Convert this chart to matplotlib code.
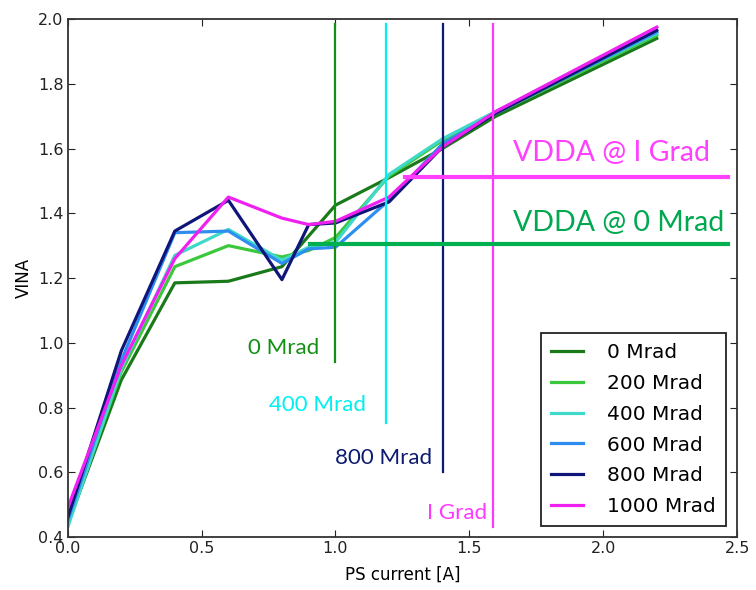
import matplotlib
matplotlib.use("Agg")
import matplotlib.pyplot as plt

# PS current sweep points [A]
current = [0, 0.2, 0.4, 0.6, 0.8, 0.9, 1.0, 1.2, 1.4, 1.6, 2.2]

# VINA for each dose
vina_0 = [0.44, 0.885, 1.185, 1.19, 1.235, 1.33, 1.425, 1.51, 1.60, 1.70, 1.94]
vina_200 = [0.44, 0.91, 1.235, 1.30, 1.265, 1.285, 1.325, 1.515, 1.625, 1.71, 1.95]
vina_400 = [0.43, 0.92, 1.27, 1.35, 1.255, 1.295, 1.31, 1.52, 1.63, 1.715, 1.955]
vina_600 = [0.45, 0.945, 1.34, 1.345, 1.245, 1.29, 1.295, 1.44, 1.615, 1.71, 1.96]
vina_800 = [0.46, 0.975, 1.345, 1.44, 1.195, 1.365, 1.37, 1.435, 1.605, 1.71, 1.965]
vina_1000 = [0.49, 0.93, 1.26, 1.45, 1.385, 1.365, 1.375, 1.45, 1.605, 1.715, 1.975]

labels = ["0 Mrad", "200 Mrad", "400 Mrad", "600 Mrad", "800 Mrad", "1000 Mrad"]
colors = ["#1a7a1a", "#3cc83c", "#40d8c8", "#2e8ef0", "#10157a", "#f020f0"]

# current where VINA crosses the VDDA level for each dose
marker_x = [1.0, 1.19, 1.4, 1.59]
marker_bottom = [0.94, 0.752, 0.60, 0.43]
marker_text = ["0 Mrad", "400 Mrad", "800 Mrad", "I Grad"]
marker_col = ["#139013", "#00f0f0", "#0c1a70", "#ff38ff"]

# VDDA levels
vdda_0 = 1.305
vdda_1g = 1.511


fig = plt.figure(figsize=(7.56, 5.9), dpi=100)
ax = fig.add_axes([0.0896, 0.0898, 0.8854, 0.878])

series = [vina_0, vina_200, vina_400, vina_600, vina_800, vina_1000]
for ys, lab, c in zip(series, labels, colors):
    ax.plot(current, ys, color=c, lw=2.3, label=lab)

for x, yb, c in zip(marker_x, marker_bottom, marker_col):
    ax.plot([x, x], [yb, 1.985], color=c, lw=1.6, zorder=4)

ax.plot([1.26, 2.467], [vdda_1g, vdda_1g], color="#ff40ff", lw=3, zorder=4)
ax.plot([0.904, 2.467], [vdda_0, vdda_0], color="#00b050", lw=3, zorder=4)

font = "Lato"
ax.text(0.94, 0.984, marker_text[0], color=marker_col[0], ha="right", va="center",
        fontsize=16, family=font)
ax.text(1.115, 0.808, marker_text[1], color=marker_col[1], ha="right", va="center",
        fontsize=16, family=font)
ax.text(1.36, 0.644, marker_text[2], color=marker_col[2], ha="right", va="center",
        fontsize=16, family=font)
ax.text(1.565, 0.474, marker_text[3], color=marker_col[3], ha="right", va="center",
        fontsize=16, family=font)
ax.text(1.662, 1.586, "VDDA @ I Grad", color="#ff40ff", ha="left", va="center",
        fontsize=20.5, family=font)
ax.text(1.662, 1.37, "VDDA @ 0 Mrad", color="#00a850", ha="left", va="center",
        fontsize=20.5, family=font)

ax.set_xlim(0, 2.5)
ax.set_ylim(0.4, 2.0)
ax.set_xticks([0, 0.5, 1.0, 1.5, 2.0, 2.5])
ax.set_yticks([0.4, 0.6, 0.8, 1.0, 1.2, 1.4, 1.6, 1.8, 2.0])
ax.tick_params(direction="in", top=True, right=True, length=5, labelsize=11.5,
               colors="#222222", pad=3)
for s in ax.spines.values():
    s.set_linewidth(1.3)
    s.set_color("#333333")

ax.set_xlabel("PS current [A]", fontsize=12, labelpad=7)
ax.set_ylabel("VINA", fontsize=12, labelpad=4)

leg = ax.legend(loc="lower right", fontsize=14.5, fancybox=False, framealpha=1,
                edgecolor="#222222", handlelength=1.6, labelspacing=0.58,
                borderaxespad=0.55, handletextpad=1.2, borderpad=0.5)
leg.get_frame().set_linewidth(1.3)

fig.savefig("out.png", dpi=100)
